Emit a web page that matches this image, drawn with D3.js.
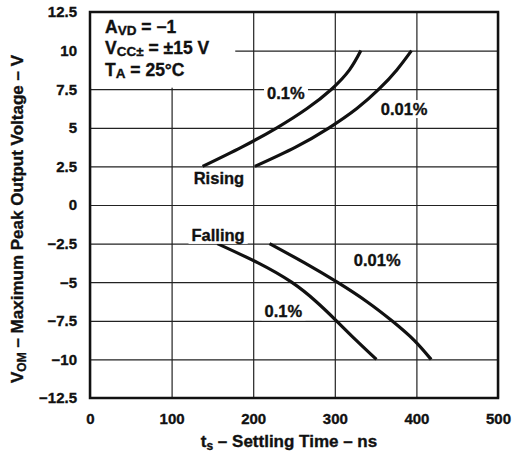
<!DOCTYPE html>
<html lang="en">
<head>
<meta charset="utf-8">
<title>Settling time</title>
<style>
  body { margin: 0; background: #fff; }
  svg text { font-family: "Liberation Sans", Arial, sans-serif; font-weight: bold; fill: #111;
             stroke: #111; stroke-width: 0.35px; }
</style>
</head>
<body>
<svg></svg>
<script src="https://d3js.org/d3.v7.min.js"></script>
<script>
// axis ticks
var xTicks = [0, 100, 200, 300, 400, 500];
var yTicks = [12.5, 10, 7.5, 5, 2.5, 0, -2.5, -5, -7.5, -10, -12.5];

// settling time (ns) vs output voltage (V)
var rise01ns  = [138, 186, 229, 266, 296, 318, 332];
var rise01V   = [2.5, 3.75, 5, 6.25, 7.5, 8.75, 10];
var rise001ns = [202, 252, 293, 327, 354, 376, 394];
var rise001V  = [2.5, 3.75, 5, 6.25, 7.5, 8.75, 10];
var fall01ns  = [156, 206, 247, 277, 302, 326, 351];
var fall01V   = [-2.5, -3.75, -5, -6.25, -7.5, -8.75, -10];
var fall001ns = [220, 263, 303, 339, 370, 397, 418];
var fall001V  = [-2.5, -3.75, -5, -6.25, -7.5, -8.75, -10];

// curve labels: text, ns, V
var labelText = ["0.1%", "0.01%", "Rising", "Falling", "0.01%", "0.1%"];
var labelNs   = [240, 385, 158, 157, 352, 237];
var labelV    = [7.25, 6.2, 1.75, -1.95, -3.55, -6.9];

var svgWidth = 515, svgHeight = 460;
var m = { top: 12, right: 17, bottom: 62, left: 90 };
var w = svgWidth - m.left - m.right;
var h = svgHeight - m.top - m.bottom;

var svg = d3.select('svg').attr('width', svgWidth).attr('height', svgHeight);
var g = svg.append('g').attr('transform', 'translate(' + m.left + ',' + m.top + ')');

var x = d3.scaleLinear().domain([0, 500]).range([0, w]);
var y = d3.scaleLinear().domain([-12.5, 12.5]).range([h, 0]);

function fmt(d) { return d3.format('')(d); }

// grid + tick labels
var xAxis = g.append('g').attr('transform', 'translate(0,' + h + ')')
  .call(d3.axisBottom(x).tickValues(xTicks).tickSize(-h).tickPadding(15).tickFormat(fmt));
var yAxis = g.append('g')
  .call(d3.axisLeft(y).tickValues(yTicks).tickSize(-w).tickPadding(13).tickFormat(fmt));

[xAxis, yAxis].forEach(function(a) {
  a.select('.domain').remove();
  a.selectAll('line').attr('stroke', '#222').attr('stroke-width', 1.2);
  a.selectAll('text').attr('font-size', 15).style('font-family', '"Liberation Sans", Arial, sans-serif')
    .style('font-weight', 'bold').attr('fill', '#111');
});

// legend box hides the grid in the corner
g.append('rect').attr('x', 0).attr('y', 0)
  .attr('width', x(178)).attr('height', y(7.5) - 1.5).attr('fill', '#fff');

var leg = g.append('g').attr('transform', 'translate(15,0)').attr('font-size', 17.5);
var l1 = leg.append('text').attr('y', 21);
l1.append('tspan').text('A');
l1.append('tspan').attr('font-size', 13.5).attr('dy', 2).text('VD');
l1.append('tspan').attr('dy', -2).text(' = \u22121');
var l2 = leg.append('text').attr('y', 42);
l2.append('tspan').text('V');
l2.append('tspan').attr('font-size', 13.5).attr('dy', 2).text('CC\u00b1');
l2.append('tspan').attr('dy', -2).text(' = \u00b115 V');
var l3 = leg.append('text').attr('y', 64);
l3.append('tspan').text('T');
l3.append('tspan').attr('font-size', 13.5).attr('dy', 2).text('A');
l3.append('tspan').attr('dy', -2).text(' = 25\u00b0C');

// curves
var line = d3.line().x(function(d) { return x(d[0]); }).y(function(d) { return y(d[1]); })
  .curve(d3.curveNatural);
var curves = [d3.zip(rise01ns, rise01V), d3.zip(rise001ns, rise001V),
              d3.zip(fall01ns, fall01V), d3.zip(fall001ns, fall001V)];
g.selectAll('path.curve').data(curves).enter().append('path')
  .attr('class', 'curve').attr('d', line)
  .attr('fill', 'none').attr('stroke', '#111').attr('stroke-width', 3.2);

// labels on white patches
labelText.forEach(function(t, i) {
  var lg = g.append('g');
  var tx = lg.append('text').attr('x', x(labelNs[i])).attr('y', y(labelV[i]))
    .attr('text-anchor', 'middle').attr('dy', '0.35em').attr('font-size', 16.5).text(t);
  var b = tx.node().getBBox();
  lg.insert('rect', 'text').attr('x', b.x - 3).attr('y', b.y).attr('width', b.width + 6)
    .attr('height', b.height).attr('fill', '#fff');
});

// frame
g.append('rect').attr('width', w).attr('height', h)
  .attr('fill', 'none').attr('stroke', '#111').attr('stroke-width', 2.5);

// axis titles
var xt = svg.append('text').attr('x', m.left + w / 2 - 5).attr('y', 447)
  .attr('text-anchor', 'middle').attr('font-size', 17);
xt.append('tspan').text('t');
xt.append('tspan').attr('font-size', 12).attr('dy', 3).text('s');
xt.append('tspan').attr('dy', -3).text(' \u2013 Settling Time \u2013 ns');

var yt = svg.append('text').attr('transform', 'translate(23,' + (m.top + h / 2 + 14) + ') rotate(-90)')
  .attr('text-anchor', 'middle').attr('font-size', 17);
yt.append('tspan').text('V');
yt.append('tspan').attr('font-size', 12).attr('dy', 3).text('OM');
yt.append('tspan').attr('dy', -3).text(' \u2013 Maximum Peak Output Voltage \u2013 V');
</script>
</body>
</html>
